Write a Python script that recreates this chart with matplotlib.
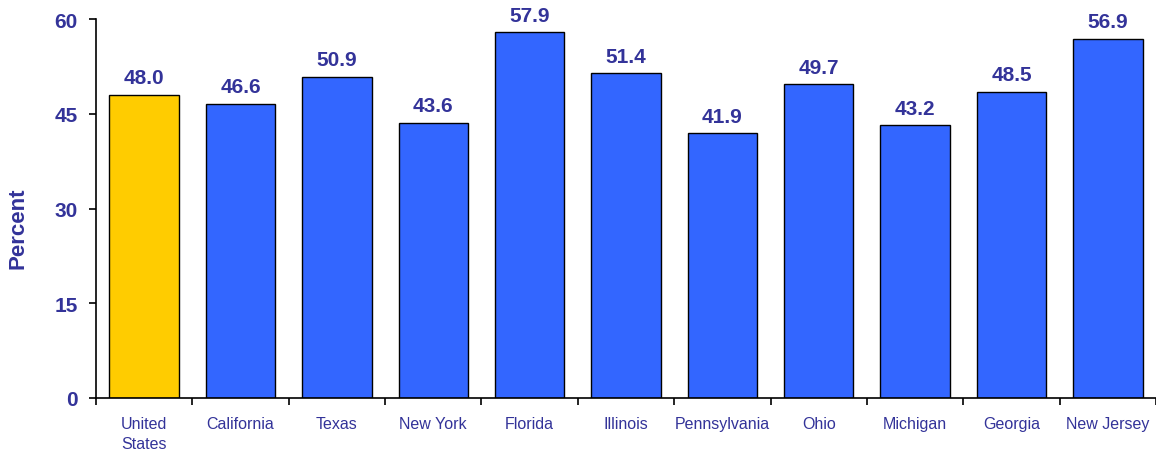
import matplotlib.pyplot as plt
import numpy as np

plt.rcParams['font.family'] = ['Liberation Sans', 'DejaVu Sans']

states = ['United\nStates', 'California', 'Texas', 'New York', 'Florida', 'Illinois',
          'Pennsylvania', 'Ohio', 'Michigan', 'Georgia', 'New Jersey']
percent = [48.0, 46.6, 50.9, 43.6, 57.9, 51.4, 41.9, 49.7, 43.2, 48.5, 56.9]
yticks = [0, 15, 30, 45, 60]

navy = '#333399'
colors = ['#FFCC00'] + ['#3366FF'] * (len(states) - 1)

fig = plt.figure(figsize=(11.56, 4.56), dpi=100)
ax = fig.add_axes([0.083, 0.125, 0.917, 0.831])

x = np.arange(len(states))
ax.bar(x, percent, width=0.72, color=colors, edgecolor='black', linewidth=1, zorder=2)
for xi, v in zip(x, percent):
    ax.text(xi, v + 1.2, f'{v:.1f}', ha='center', va='bottom', color=navy,
            fontsize=15, fontweight='bold')

ax.set_xlim(-0.5, len(states) - 0.5)
ax.set_ylim(0, 60)
ax.set_yticks(yticks)
ax.set_yticklabels([str(t) for t in yticks], color=navy, fontsize=15, fontweight='bold')
ax.set_xticks(x)
ax.set_xticklabels(states, color=navy, fontsize=11.5, linespacing=1.45)
ax.tick_params(axis='x', length=0, pad=13)
ax.set_xticks(np.arange(len(states) + 1) - 0.5, minor=True)
ax.tick_params(axis='x', which='minor', length=5, width=1.2, direction='out')
ax.tick_params(axis='y', length=5, width=1.2, direction='out', pad=8)

ax.spines['top'].set_visible(False)
ax.spines['right'].set_visible(False)
ax.spines['left'].set_linewidth(1.2)
ax.spines['bottom'].set_linewidth(1.2)

ax.set_ylabel('Percent', color=navy, fontsize=16, fontweight='bold')
ax.yaxis.set_label_coords(-0.064, 0.451)

fig.savefig('out.png', dpi=100)
